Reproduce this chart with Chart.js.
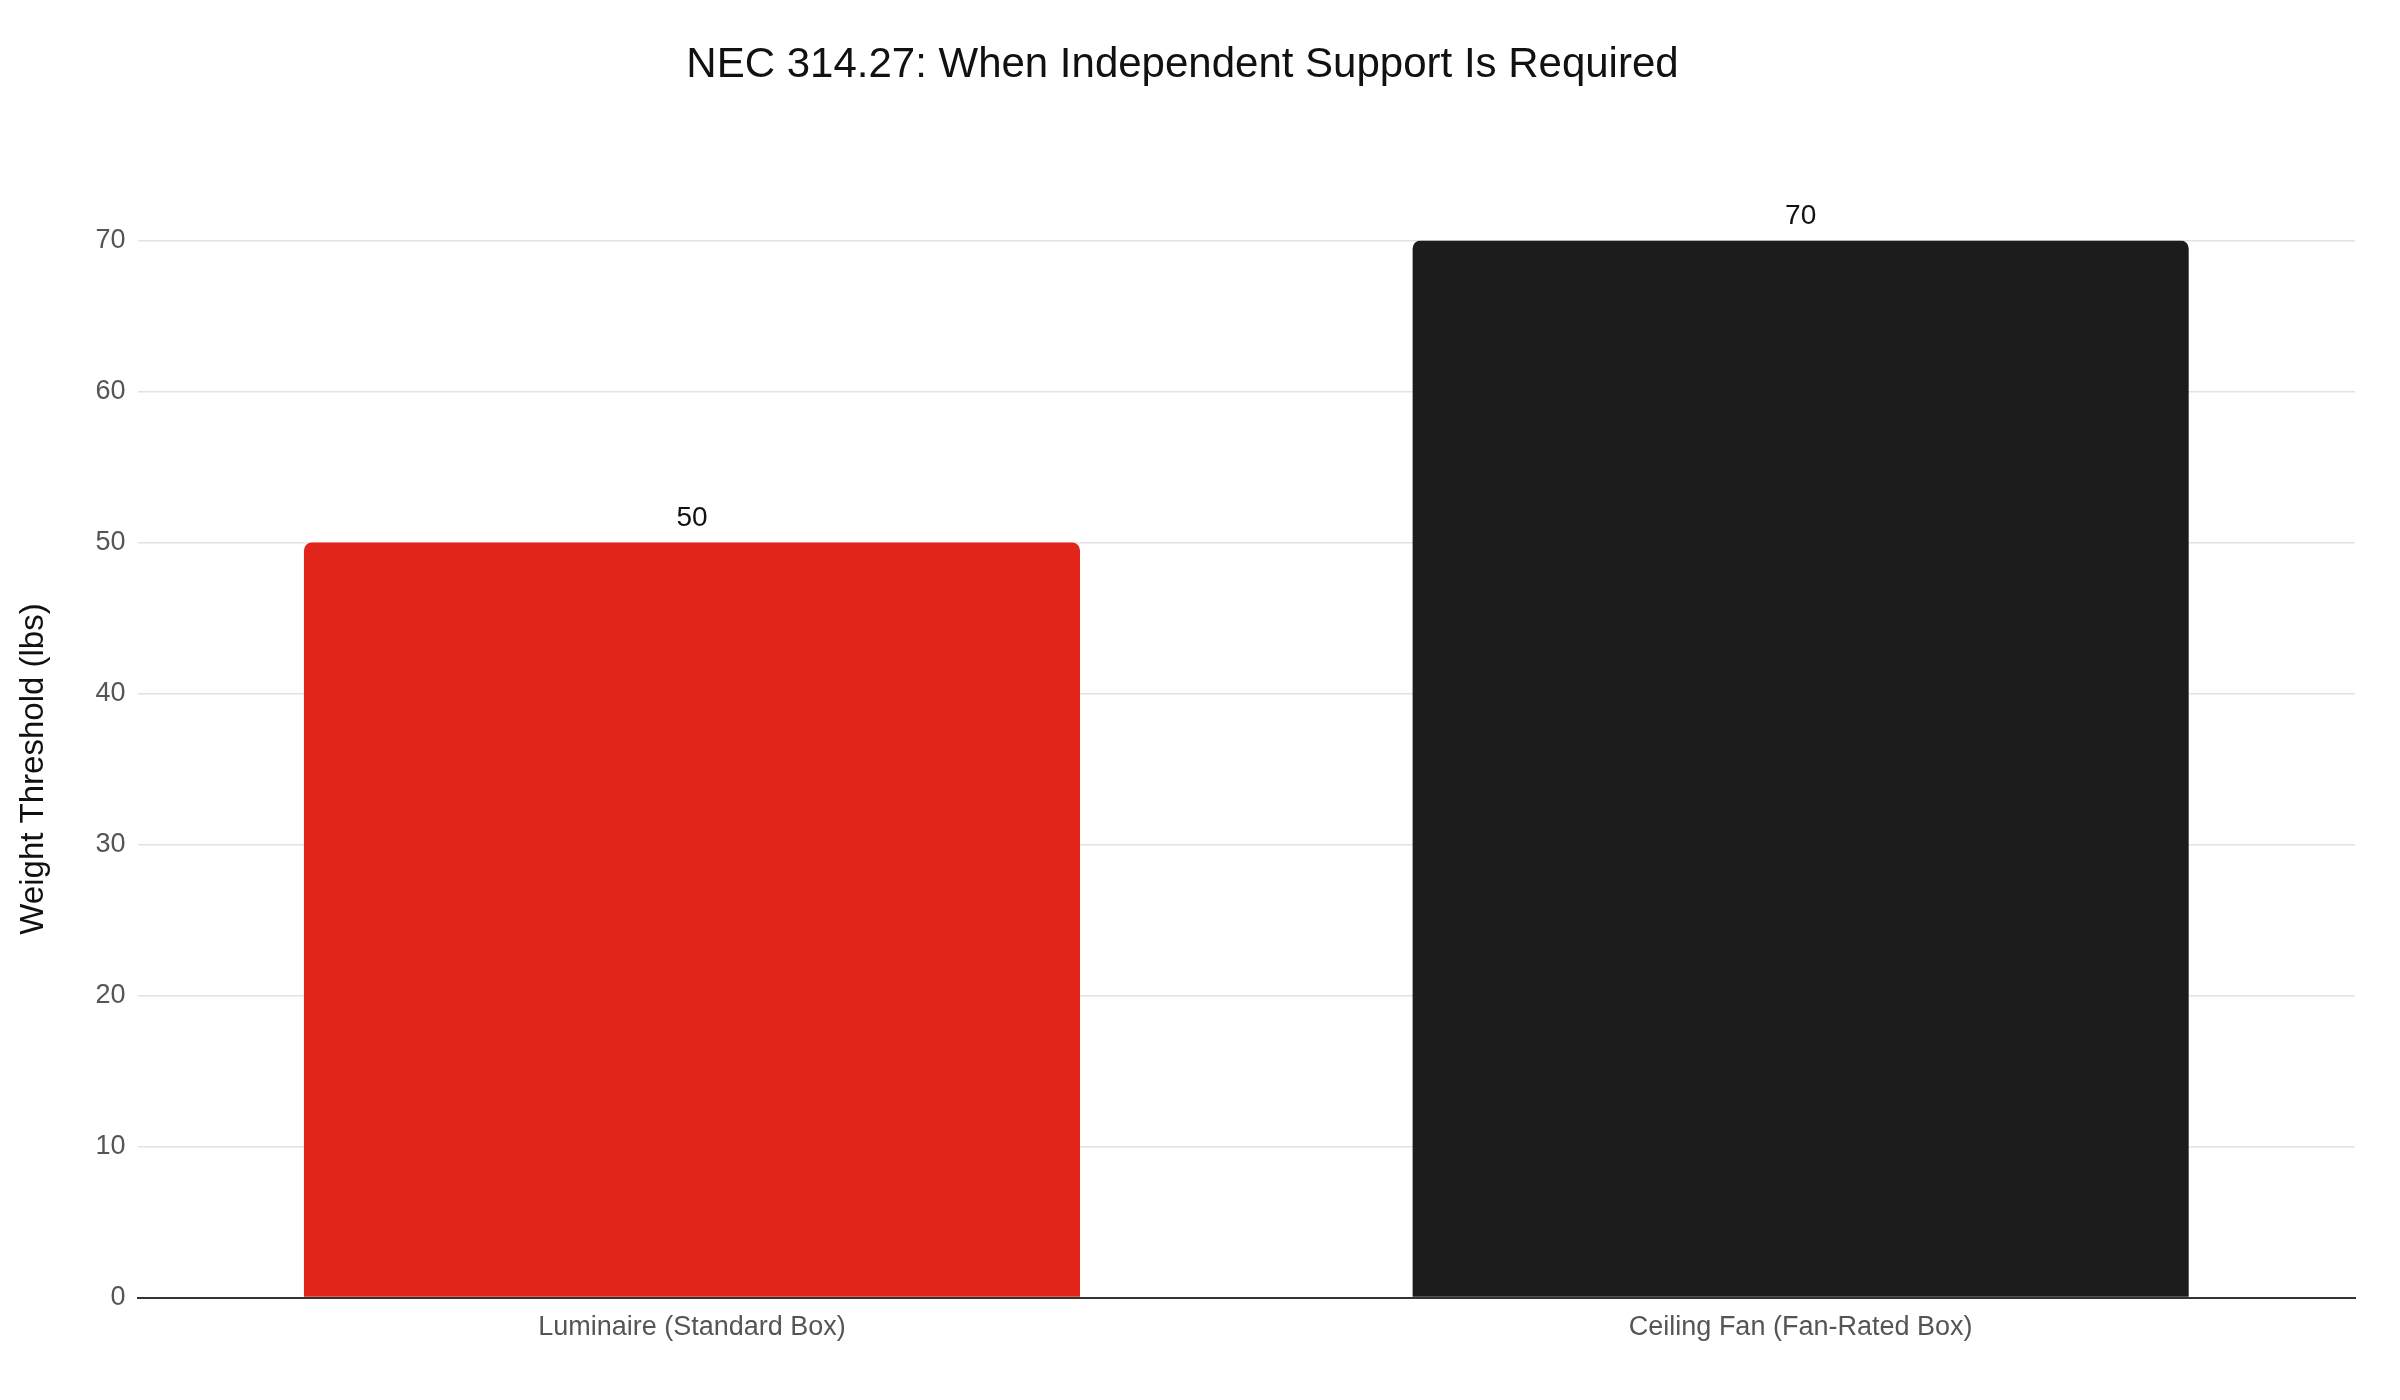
<!DOCTYPE html>
<html>
<head>
<meta charset="utf-8">
<script src="https://cdn.jsdelivr.net/npm/chart.js@4/dist/chart.umd.min.js"></script>
<style>
  html, body { margin: 0; padding: 0; background: #fff; }
  #wrap { width: 2400px; height: 1400px; }
</style>
</head>
<body>
<div id="wrap"><canvas id="chart"></canvas></div>
<script>
const categories = ['Luminaire (Standard Box)', 'Ceiling Fan (Fan-Rated Box)'];
const thresholds = [50, 70];
const barColors = ['#e2251b', '#1c1c1c'];

// value labels above each bar
const valueLabels = {
    id: 'valueLabels',
    afterDatasetsDraw(chart) {
        const ctx = chart.ctx;
        const meta = chart.getDatasetMeta(0);
        ctx.save();
        ctx.font = '28px "Liberation Sans", Arial, sans-serif';
        ctx.fillStyle = '#111';
        ctx.textAlign = 'center';
        ctx.textBaseline = 'bottom';
        meta.data.forEach((bar, i) => {
            ctx.fillText(String(thresholds[i]), bar.x, bar.y - 10);
        });
        ctx.restore();
    },
};

new Chart(document.getElementById('chart'), {
    type: 'bar',
    data: {
        labels: categories,
        datasets: [{
            data: thresholds,
            backgroundColor: barColors,
            borderRadius: 8,
            borderSkipped: 'bottom',
            categoryPercentage: 1,
            barPercentage: 0.7,
        }],
    },
    options: {
        responsive: true,
        maintainAspectRatio: false,
        animation: false,
        layout: { padding: { top: 20, right: 45, left: 10, bottom: 50 } },
        plugins: {
            legend: { display: false },
            tooltip: { enabled: false },
            title: {
                display: true,
                text: 'NEC 314.27: When Independent Support Is Required',
                color: '#111',
                font: { family: '"Liberation Sans", Arial, sans-serif', size: 42, weight: 'normal' },
                padding: { top: 20, bottom: 150 },
            },
        },
        scales: {
            x: {
                grid: { display: false },
                border: { color: '#333', width: 2 },
                ticks: { color: '#555', font: { family: '"Liberation Sans", Arial, sans-serif', size: 27 }, padding: 6 },
            },
            y: {
                min: 0,
                max: 70,
                ticks: { stepSize: 10, color: '#555', font: { family: '"Liberation Sans", Arial, sans-serif', size: 27 }, padding: 12 },
                grid: { color: '#e3e3e3', lineWidth: 1.5, drawTicks: false },
                border: { display: false },
                title: {
                    display: true,
                    text: 'Weight Threshold (lbs)',
                    color: '#111',
                    font: { family: '"Liberation Sans", Arial, sans-serif', size: 33 },
                    padding: { bottom: 30 },
                },
            },
        },
    },
    plugins: [valueLabels],
});
</script>
</body>
</html>
